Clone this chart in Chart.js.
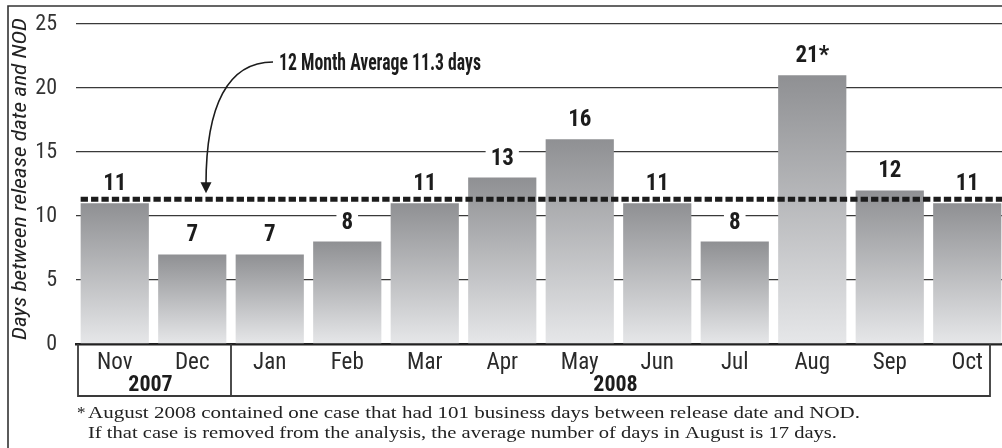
<!DOCTYPE html>
<html>
<head>
<meta charset="utf-8">
<script src="https://cdn.jsdelivr.net/npm/chart.js"></script>
<style>
  html, body { margin: 0; padding: 0; background: #fff; overflow: hidden; }
  #wrap { position: relative; width: 1008px; height: 448px; }
</style>
</head>
<body>
<div id="wrap"><canvas id="chart"></canvas></div>
<script>
const months = ['Nov', 'Dec', 'Jan', 'Feb', 'Mar', 'Apr', 'May', 'Jun', 'Jul', 'Aug', 'Sep', 'Oct'];
const days = [11, 7, 7, 8, 11, 13, 16, 11, 8, 21, 12, 11];
const dayLabels = ['11', '7', '7', '8', '11', '13', '16', '11', '8', '21*', '12', '11'];
const years = ['2007', '2008'];
const yearSpans = [[0, 1], [2, 11]];
const average = 11.3;
const averageLabel = '12 Month Average 11.3 days';
const yTicks = [0, 5, 10, 15, 20, 25];
const yTitle = 'Days between release date and NOD';
const footnote = [
  'August 2008 contained one case that had 101 business days between release date and NOD.',
  'If that case is removed from the analysis, the average number of days in August is 17 days.'
];

const NARROW = "'Liberation Sans Narrow', 'Roboto Condensed', 'Liberation Sans', sans-serif";
const SERIF = "'Liberation Serif', 'DejaVu Serif', serif";

function barGradient(c) {
  const { ctx, chartArea, scales } = c.chart;
  if (!chartArea || c.type !== 'data') return '#aaa';
  const top = scales.y.getPixelForValue(c.raw);
  const bot = scales.y.getPixelForValue(0);
  const g = ctx.createLinearGradient(0, top, 0, bot);
  g.addColorStop(0, '#8f9093');
  g.addColorStop(1, '#e6e7e9');
  return g;
}

// draw text squeezed/stretched to a given width
function fitText(ctx, text, x, y, width) {
  const w = ctx.measureText(text).width;
  ctx.save();
  ctx.translate(x, y);
  ctx.scale(width / w, 1);
  ctx.fillText(text, 0, 0);
  ctx.restore();
}

const decor = {
  id: 'decor',
  afterDraw(chart) {
    const { ctx, chartArea, scales } = chart;
    const x = scales.x, y = scales.y;
    const bars = chart.getDatasetMeta(0).data;
    ctx.save();

    // value labels with white backing
    ctx.font = `bold 23px ${NARROW}`;
    ctx.textAlign = 'center';
    ctx.textBaseline = 'alphabetic';
    bars.forEach((b, i) => {
      const base = b.y - 13;
      const w = ctx.measureText(dayLabels[i]).width;
      ctx.fillStyle = '#fff';
      ctx.fillRect(b.x - w / 2 - 5, base - 19, w + 10, 23);
      ctx.fillStyle = '#1c1c1c';
      ctx.fillText(dayLabels[i], b.x, base);
    });

    // average dashed line
    const ay = y.getPixelForValue(average);
    ctx.strokeStyle = '#1c1c1c';
    ctx.lineWidth = 5;
    ctx.setLineDash([7.3, 3.1]);
    ctx.beginPath();
    ctx.moveTo(bars[0].x - bars[0].width / 2, ay);
    ctx.lineTo(chart.width, ay);
    ctx.stroke();
    ctx.setLineDash([]);

    // annotation with curved arrow
    ctx.fillStyle = '#1c1c1c';
    ctx.textAlign = 'left';
    ctx.font = `bold 23px ${NARROW}`;
    fitText(ctx, averageLabel, 279, 70, 202);
    ctx.lineWidth = 1.6;
    ctx.beginPath();
    ctx.moveTo(273, 62);
    ctx.bezierCurveTo(228, 62, 206, 105, 206, ay - 15);
    ctx.stroke();
    ctx.beginPath();
    ctx.moveTo(206, ay - 6);
    ctx.lineTo(200.5, ay - 17);
    ctx.lineTo(211.5, ay - 17);
    ctx.closePath();
    ctx.fill();

    // category table under the axis
    const tBot = 396;
    const left = x.left + 2;
    const right = chartArea.right - 16;
    ctx.strokeStyle = '#3a3a3a';
    ctx.lineWidth = 1.8;
    ctx.beginPath();
    ctx.moveTo(left, chartArea.bottom);
    ctx.lineTo(left, tBot);
    ctx.lineTo(right, tBot);
    ctx.lineTo(right, chartArea.bottom);
    const div = (x.getPixelForValue(1) + x.getPixelForValue(2)) / 2;
    ctx.moveTo(div, chartArea.bottom);
    ctx.lineTo(div, tBot);
    ctx.stroke();

    ctx.textAlign = 'center';
    ctx.font = `bold 22px ${NARROW}`;
    years.forEach((yr, i) => {
      const [a, b] = yearSpans[i];
      const cx = (x.getPixelForValue(a) + x.getPixelForValue(b)) / 2 - 3;
      ctx.fillText(yr, cx, 391);
    });

    // y-axis title
    ctx.save();
    ctx.translate(26, 179);
    ctx.rotate(-Math.PI / 2);
    ctx.font = `italic 21px ${NARROW}`;
    ctx.fillStyle = '#222';
    const tw = ctx.measureText(yTitle).width;
    ctx.scale(322 / tw, 1);
    ctx.fillText(yTitle, 0, 0);
    ctx.restore();

    // footnote
    ctx.textAlign = 'left';
    ctx.fillStyle = '#222';
    ctx.font = `17px ${SERIF}`;
    ctx.fillText('*', 77, 418);
    fitText(ctx, footnote[0], 88, 418, 772);
    fitText(ctx, footnote[1], 88, 438, 749);

    // frame
    ctx.strokeStyle = '#333';
    ctx.lineWidth = 1.6;
    ctx.beginPath();
    ctx.moveTo(8, chart.height);
    ctx.lineTo(8, 6);
    ctx.lineTo(chart.width, 6);
    ctx.stroke();

    ctx.restore();
  }
};

new Chart(document.getElementById('chart'), {
  type: 'bar',
  data: {
    labels: months,
    datasets: [{
      data: days,
      backgroundColor: barGradient,
      barPercentage: 0.88,
      categoryPercentage: 1
    }]
  },
  options: {
    responsive: true,
    maintainAspectRatio: false,
    animation: false,
    layout: { padding: { left: 8, top: 24, right: 2, bottom: 0 } },
    plugins: { legend: { display: false }, tooltip: { enabled: false } },
    scales: {
      x: {
        grid: { display: false, drawTicks: false },
        border: { display: true, color: '#222', width: 2.5 },
        ticks: { color: '#2a2a2a', font: { family: NARROW, size: 23 }, padding: 5, maxRotation: 0, autoSkip: false },
        afterFit(s) { s.height = 104; }
      },
      y: {
        min: 0,
        max: 25,
        afterBuildTicks(s) { s.ticks = yTicks.map(v => ({ value: v })); },
        grid: { color: '#3a3a3a', lineWidth: 1.3, drawTicks: false },
        border: { display: false },
        ticks: { color: '#333', font: { family: NARROW, size: 22 }, padding: 19 },
        afterFit(s) { s.width = 68; s.paddingTop = 0; s.paddingBottom = 0; }
      }
    }
  },
  plugins: [decor]
});
</script>
</body>
</html>
